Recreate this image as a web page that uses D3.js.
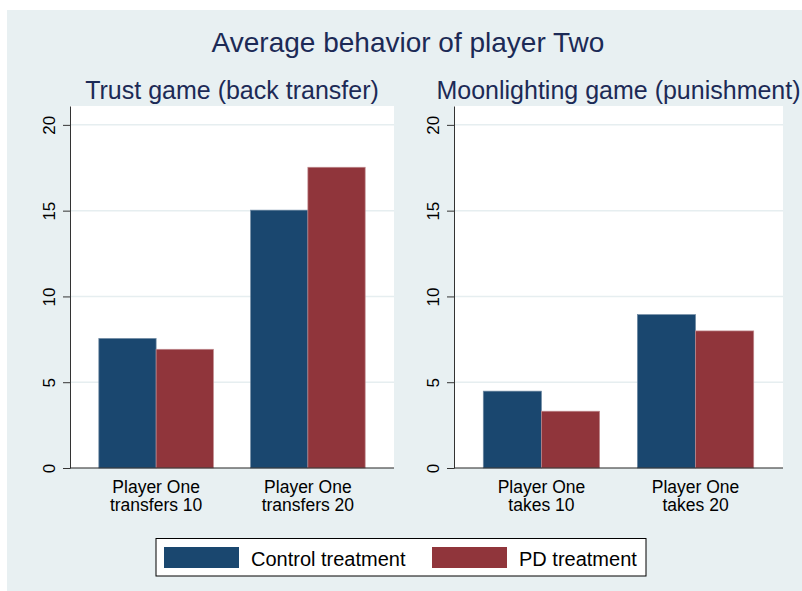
<!DOCTYPE html>
<html>
    <head>
        <meta charset="utf-8">
        <title></title>
        <script src="https://d3js.org/d3.v7.min.js"></script>
        <style>
            body { margin: 0; background: #ffffff; }
            text { font-family: "Liberation Sans", Arial, sans-serif; }
        </style>
    </head>

    <body>
        <div id="my_dataviz"></div>
    </body>

    <script>
        // data
        var mainTitle = "Average behavior of player Two"
        var panelTitles = ["Trust game (back transfer)", "Moonlighting game (punishment)"]
        var series = ["Control treatment", "PD treatment"]
        var trustLabels = [["Player One", "transfers 10"], ["Player One", "transfers 20"]]
        var moonLabels = [["Player One", "takes 10"], ["Player One", "takes 20"]]
        var trustControl = [7.55, 15.03]
        var trustPD = [6.92, 17.53]
        var moonControl = [4.48, 8.94]
        var moonPD = [3.31, 7.99]
        var yTicks = [0, 5, 10, 15, 20]

        var colors = ["#1a476f", "#90353b"]
        var strokes = ["#6f8aa3", "#c08a8e"]

        var width = 802
        var height = 591

        var svg = d3.select("#my_dataviz")
        .append("svg")
        .attr("width", width)
        .attr("height", height)

        // graph region
        svg.append("rect")
        .attr("x", 7)
        .attr("y", 10)
        .attr("width", width - 7)
        .attr("height", height - 10)
        .attr("fill", "#e8f0f2")

        // main title
        svg.append("text")
        .attr("x", 408)
        .attr("y", 52)
        .attr("text-anchor", "middle")
        .style("font-size", "28px")
        .style("fill", "#1c2a56")
        .text(mainTitle)

        // shared y scale
        var y = d3.scaleLinear()
        .domain([0, 21.1])
        .range([468, 106])

        var panels = [
            { x0: 70, x1: 394, title: panelTitles[0], labels: trustLabels, values: [trustControl, trustPD] },
            { x0: 454, x1: 783, title: panelTitles[1], labels: moonLabels, values: [moonControl, moonPD] }
        ]

        panels.forEach(function(p) {
            var g = svg.append("g")

            // plot region
            g.append("rect")
            .attr("x", p.x0)
            .attr("y", y.range()[1])
            .attr("width", p.x1 - p.x0)
            .attr("height", y.range()[0] - y.range()[1])
            .attr("fill", "#ffffff")

            // gridlines
            g.selectAll(".grid")
            .data(yTicks.filter(function(d) { return d > 0 }))
            .enter()
            .append("line")
            .attr("x1", p.x0)
            .attr("x2", p.x1)
            .attr("y1", function(d) { return y(d) })
            .attr("y2", function(d) { return y(d) })
            .attr("stroke", "#e6eef0")
            .attr("stroke-width", 1.5)

            // panel title
            g.append("text")
            .attr("x", (p.x0 + p.x1) / 2)
            .attr("y", 99)
            .attr("text-anchor", "middle")
            .style("font-size", "25px")
            .style("fill", "#1c2a56")
            .text(p.title)

            // x band for the groups
            var x = d3.scaleBand()
            .domain([0, 1])
            .range([p.x0, p.x1])
            .paddingInner(0.245)
            .paddingOuter(0.19)

            var xSub = d3.scaleBand()
            .domain([0, 1])
            .range([0, x.bandwidth()])
            .padding(0)

            // bars
            p.values.forEach(function(vals, s) {
                g.selectAll(".bar" + s)
                .data(vals)
                .enter()
                .append("rect")
                .attr("x", function(d, i) { return x(i) + xSub(s) })
                .attr("y", function(d) { return y(d) })
                .attr("width", xSub.bandwidth())
                .attr("height", function(d) { return y(0) - y(d) })
                .attr("fill", colors[s])
                .attr("stroke", strokes[s])
                .attr("stroke-width", 0.7)
            })

            // y axis
            var yAxis = g.append("g")
            .attr("transform", "translate(" + p.x0 + ",0)")
            .call(d3.axisLeft(y).tickValues(yTicks).tickSize(7).tickSizeOuter(0).tickFormat(d3.format("d")))
            yAxis.select(".domain").attr("stroke", "#333")
            yAxis.selectAll(".tick line").attr("stroke", "#333")
            yAxis.selectAll(".tick text")
            .attr("x", null)
            .attr("dy", null)
            .attr("transform", "translate(-15,0) rotate(-90)")
            .attr("text-anchor", "middle")
            .style("font-size", "17px")
            .style("fill", "#000")

            // x axis line
            g.append("line")
            .attr("x1", p.x0)
            .attr("x2", p.x1)
            .attr("y1", y(0))
            .attr("y2", y(0))
            .attr("stroke", "#222")
            .attr("stroke-width", 1)

            // x labels, two lines each
            p.labels.forEach(function(lines, i) {
                var t = g.append("text")
                .attr("text-anchor", "middle")
                .style("font-size", "17.5px")
                .style("fill", "#000")
                lines.forEach(function(line, k) {
                    t.append("tspan")
                    .attr("x", x(i) + x.bandwidth() / 2)
                    .attr("y", 493 + k * 18)
                    .text(line)
                })
            })
        })

        // legend
        var legend = svg.append("g")
        legend.append("rect")
        .attr("x", 156)
        .attr("y", 538.5)
        .attr("width", 490)
        .attr("height", 37.5)
        .attr("fill", "#ffffff")
        .attr("stroke", "#000")
        .attr("stroke-width", 1)

        var legendX = [164, 432]
        series.forEach(function(name, s) {
            legend.append("rect")
            .attr("x", legendX[s])
            .attr("y", 547)
            .attr("width", 75)
            .attr("height", 21)
            .attr("fill", colors[s])

            legend.append("text")
            .attr("x", legendX[s] + 87)
            .attr("y", 566)
            .style("font-size", "20px")
            .style("fill", "#000")
            .text(name)
        })
    </script>
</html>
